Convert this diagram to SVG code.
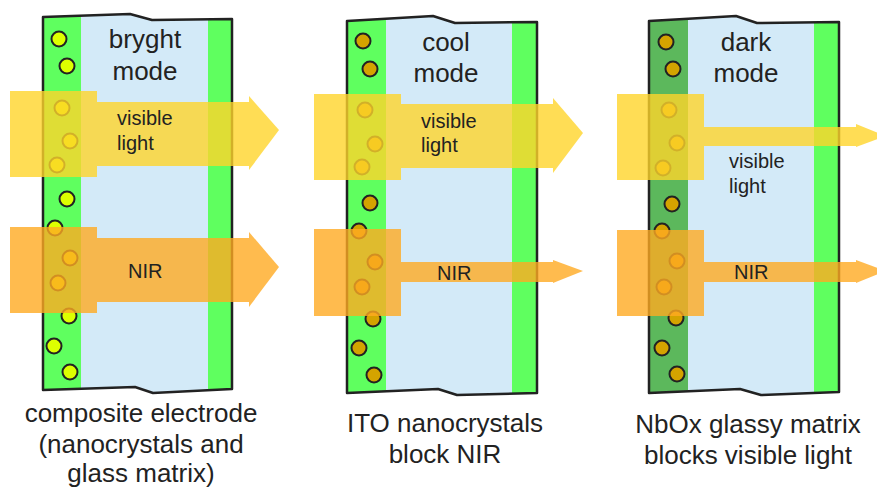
<svg xmlns="http://www.w3.org/2000/svg" width="877" height="488" viewBox="0 0 877 488">
<style>
  .body { fill: #D3EAF8; }
  .green { fill: #5FFF5F; }
  .dkgreen { fill: #5CB85C; }
  .outline { fill: none; stroke: #222; stroke-width: 2.5; stroke-linejoin: round; }
  .p1 { fill: #DDFF00; stroke: #222; stroke-width: 2; }
  .p2 { fill: #D4A300; stroke: #222; stroke-width: 2; }
  .vis { fill: #FFD42A; fill-opacity: 0.8; }
  .nir { fill: #FFAA22; fill-opacity: 0.8; }
  text { font-family: "Liberation Sans", Arial, sans-serif; fill: #222; }
  .mode { font-size: 26px; text-anchor: middle; }
  .lbl { font-size: 20px; }
  .cap { font-size: 26px; text-anchor: middle; }
</style>
<defs>
  <path id="o1" d="M43,17 L130,14 L152,20 L232,19 L232,389 L153,393 L135,387 L43,390 Z"/>
  <path id="o2" d="M347,21 L433,16 L455,23 L537,22 L537,393 L457,395 L438,389 L347,393 Z"/>
  <path id="o3" d="M649,21 L736,16 L757,23 L839,22 L839,392 L761,395 L740,389 L649,393 Z"/>
  <clipPath id="c1"><use href="#o1"/></clipPath>
  <clipPath id="c2"><use href="#o2"/></clipPath>
  <clipPath id="c3"><use href="#o3"/></clipPath>
</defs>

<g id="panel-bright">
  <use href="#o1" class="body"/>
  <g clip-path="url(#c1)">
    <rect class="green" x="43" y="10" width="38" height="390"/>
    <rect class="green" x="208" y="10" width="24" height="390"/>
  </g>
  <g>
    <circle class="p1" cx="59" cy="39" r="7.5"/>
    <circle class="p1" cx="67" cy="66" r="7.5"/>
    <circle class="p1" cx="62" cy="108" r="7.5"/>
    <circle class="p1" cx="70" cy="141" r="7.5"/>
    <circle class="p1" cx="57" cy="165" r="7.5"/>
    <circle class="p1" cx="67" cy="199" r="7.5"/>
    <circle class="p1" cx="55" cy="228" r="7.5"/>
    <circle class="p1" cx="70" cy="258" r="7.5"/>
    <circle class="p1" cx="58" cy="283" r="7.5"/>
    <circle class="p1" cx="69" cy="316" r="7.5"/>
    <circle class="p1" cx="54" cy="346" r="7.5"/>
    <circle class="p1" cx="70" cy="372" r="7.5"/>
  </g>
  <use href="#o1" class="outline"/>
</g>

<g id="panel-cool">
  <use href="#o2" class="body"/>
  <g clip-path="url(#c2)">
    <rect class="green" x="347" y="10" width="39" height="390"/>
    <rect class="green" x="512" y="10" width="25" height="390"/>
  </g>
  <g>
    <circle class="p2" cx="363" cy="41" r="7.5"/>
    <circle class="p2" cx="370" cy="69" r="7.5"/>
    <circle class="p2" cx="365" cy="110" r="7.5"/>
    <circle class="p2" cx="375" cy="144" r="7.5"/>
    <circle class="p2" cx="362" cy="167" r="7.5"/>
    <circle class="p2" cx="370" cy="203" r="7.5"/>
    <circle class="p2" cx="359" cy="231" r="7.5"/>
    <circle class="p2" cx="375" cy="262" r="7.5"/>
    <circle class="p2" cx="362" cy="287" r="7.5"/>
    <circle class="p2" cx="373" cy="319" r="7.5"/>
    <circle class="p2" cx="359" cy="348" r="7.5"/>
    <circle class="p2" cx="374" cy="375" r="7.5"/>
  </g>
  <use href="#o2" class="outline"/>
</g>

<g id="panel-dark">
  <use href="#o3" class="body"/>
  <g clip-path="url(#c3)">
    <rect class="dkgreen" x="649" y="10" width="39" height="390"/>
    <rect class="green" x="814" y="10" width="25" height="390"/>
  </g>
  <g>
    <circle class="p2" cx="666" cy="42" r="7.5"/>
    <circle class="p2" cx="673" cy="69" r="7.5"/>
    <circle class="p2" cx="669" cy="110" r="7.5"/>
    <circle class="p2" cx="677" cy="143" r="7.5"/>
    <circle class="p2" cx="663" cy="168" r="7.5"/>
    <circle class="p2" cx="672" cy="204" r="7.5"/>
    <circle class="p2" cx="662" cy="231" r="7.5"/>
    <circle class="p2" cx="677" cy="261" r="7.5"/>
    <circle class="p2" cx="664" cy="287" r="7.5"/>
    <circle class="p2" cx="676" cy="318" r="7.5"/>
    <circle class="p2" cx="662" cy="348" r="7.5"/>
    <circle class="p2" cx="677" cy="374" r="7.5"/>
  </g>
  <use href="#o3" class="outline"/>
</g>

<g id="beams">
  <!-- panel 1 -->
  <rect class="vis" x="10" y="91" width="87" height="86"/>
  <rect class="vis" x="97" y="102" width="152" height="64"/>
  <polygon class="vis" points="249,96 279,130 249,170"/>
  <rect class="nir" x="10" y="227" width="87" height="86"/>
  <rect class="nir" x="97" y="238" width="152" height="64"/>
  <polygon class="nir" points="249,232 279,267 249,307"/>
  <!-- panel 2 -->
  <rect class="vis" x="314" y="94" width="87" height="86"/>
  <rect class="vis" x="401" y="104" width="152" height="64"/>
  <polygon class="vis" points="553,98 583,133 553,173"/>
  <rect class="nir" x="314" y="229" width="87" height="87"/>
  <rect class="nir" x="401" y="262" width="152" height="20"/>
  <polygon class="nir" points="553,260 583,271 553,283"/>
  <!-- panel 3 -->
  <rect class="vis" x="617" y="94" width="87" height="86"/>
  <rect class="vis" x="704" y="127" width="152" height="19"/>
  <polygon class="vis" points="856,124 886,136 856,147"/>
  <rect class="nir" x="617" y="230" width="87" height="86"/>
  <rect class="nir" x="704" y="262" width="152" height="20"/>
  <polygon class="nir" points="856,260 886,271 856,283"/>
</g>

<g id="labels">
  <text class="mode" x="145" y="48">bryght</text>
  <text class="mode" x="145" y="80">mode</text>
  <text class="mode" x="446" y="51">cool</text>
  <text class="mode" x="446" y="82">mode</text>
  <text class="mode" x="746" y="51">dark</text>
  <text class="mode" x="746" y="82">mode</text>

  <text class="lbl" x="117" y="125">visible</text>
  <text class="lbl" x="117" y="150">light</text>
  <text class="lbl" x="128" y="278">NIR</text>

  <text class="lbl" x="421" y="128">visible</text>
  <text class="lbl" x="421" y="152">light</text>
  <text class="lbl" x="437" y="280">NIR</text>

  <text class="lbl" x="729" y="168">visible</text>
  <text class="lbl" x="729" y="193">light</text>
  <text class="lbl" x="734" y="279">NIR</text>

  <text class="cap" x="141" y="422">composite electrode</text>
  <text class="cap" x="141" y="453">(nanocrystals and</text>
  <text class="cap" x="141" y="482">glass matrix)</text>
  <text class="cap" x="445" y="432">ITO nanocrystals</text>
  <text class="cap" x="445" y="463">block NIR</text>
  <text class="cap" x="748" y="433">NbOx glassy matrix</text>
  <text class="cap" x="748" y="464">blocks visible light</text>
</g>
</svg>
